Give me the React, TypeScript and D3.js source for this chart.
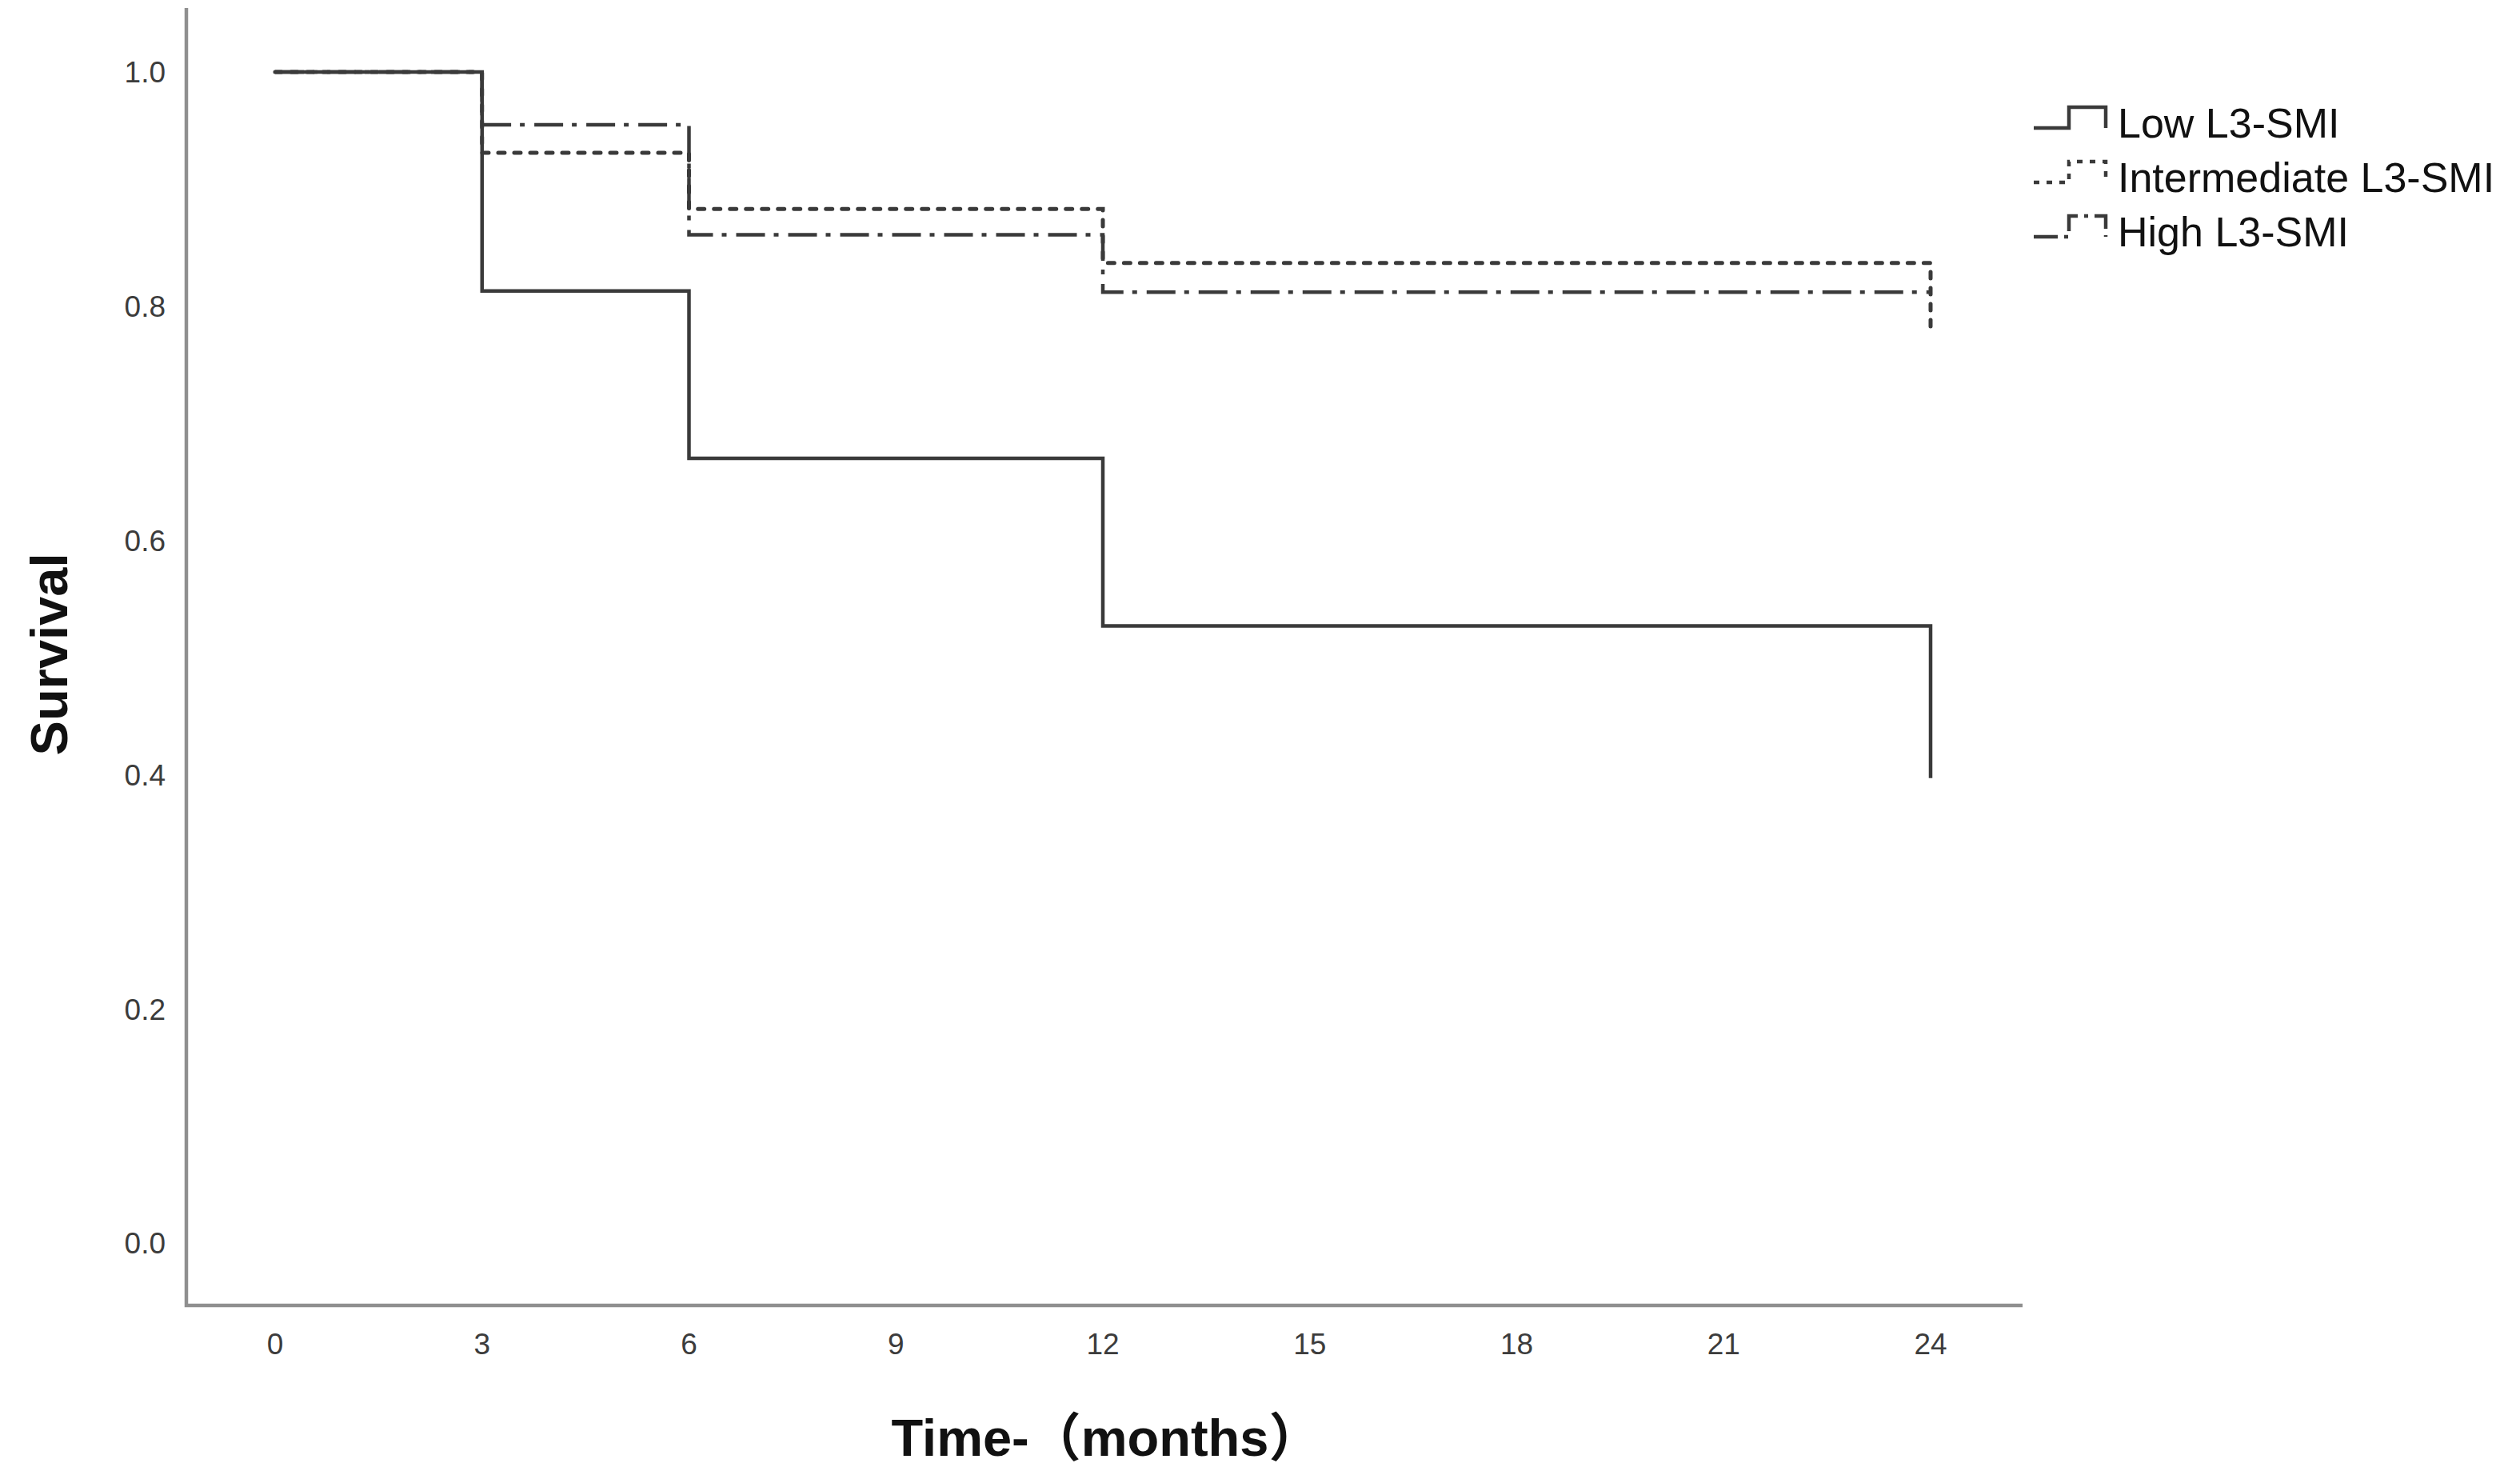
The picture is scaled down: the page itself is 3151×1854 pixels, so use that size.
import { useRef, useEffect } from "react";
import * as d3 from "d3";

const WIDTH = 3151;
const HEIGHT = 1854;

// Kaplan-Meier step points (months, survival)
const times = [0, 3, 6, 12, 24];
const lowValues = [1.0, 0.813, 0.67, 0.527, 0.397];
const intermediateValues = [1.0, 0.931, 0.883, 0.837, 0.778];
const highValues = [1.0, 0.955, 0.861, 0.812, 0.812];

const xTicks = [0, 3, 6, 9, 12, 15, 18, 21, 24];
const yTicks = [0, 0.2, 0.4, 0.6, 0.8, 1.0];

const seriesNames = ["Low L3-SMI", "Intermediate L3-SMI", "High L3-SMI"];
const seriesDash = ["none", "8,12", "36,11,6,12"];

const COLORS = {
  line: "#3a3a3a",
  axis: "#8f8f8f",
  tickText: "#3c3c3c",
  title: "#111111",
};

const FONT = "'Liberation Sans', Arial, 'Noto Sans CJK SC', sans-serif";

export default function App() {
  const svgRef = useRef<SVGSVGElement>(null);

  useEffect(() => {
    if (!svgRef.current) return;
    const svg = d3.select(svgRef.current);
    svg.selectAll("*").remove();

    svg.append("rect").attr("width", WIDTH).attr("height", HEIGHT).attr("fill", "#fff");

    const x = d3.scaleLinear().domain([0, 24]).range([344, 2414]);
    const y = d3.scaleLinear().domain([0, 1]).range([1554, 90]);

    const axisLeftX = 233;
    const axisBottomY = 1632;

    // Axis lines (SPSS style, no tick marks)
    svg
      .append("path")
      .attr("d", `M${axisLeftX},10 L${axisLeftX},${axisBottomY} L2529,${axisBottomY}`)
      .attr("fill", "none")
      .attr("stroke", COLORS.axis)
      .attr("stroke-width", 4.5);

    // Y tick labels
    svg
      .append("g")
      .selectAll("text")
      .data(yTicks)
      .enter()
      .append("text")
      .attr("x", 207)
      .attr("y", (d) => y(d))
      .attr("dy", "0.36em")
      .attr("text-anchor", "end")
      .attr("font-family", FONT)
      .attr("font-size", 37)
      .attr("fill", COLORS.tickText)
      .text((d) => d3.format(".1f")(d));

    // X tick labels
    svg
      .append("g")
      .selectAll("text")
      .data(xTicks)
      .enter()
      .append("text")
      .attr("x", (d) => x(d))
      .attr("y", 1680)
      .attr("dy", "0.36em")
      .attr("text-anchor", "middle")
      .attr("font-family", FONT)
      .attr("font-size", 37)
      .attr("fill", COLORS.tickText)
      .text((d) => String(d));

    // Axis titles
    svg
      .append("text")
      .attr("transform", `translate(84,818) rotate(-90)`)
      .attr("text-anchor", "middle")
      .attr("font-family", FONT)
      .attr("font-size", 65)
      .attr("font-weight", "bold")
      .attr("fill", COLORS.title)
      .text("Survival");

    svg
      .append("text")
      .attr("x", 1383)
      .attr("y", 1820)
      .attr("text-anchor", "middle")
      .attr("font-family", FONT)
      .attr("font-size", 65)
      .attr("font-weight", "bold")
      .attr("fill", COLORS.title)
      .text("Time-（months）");

    // Survival curves
    const line = d3
      .line<number>()
      .x((_, i) => x(times[i]))
      .y((d) => y(d))
      .curve(d3.curveStepAfter);

    const allSeries = [lowValues, intermediateValues, highValues];
    allSeries.forEach((vals, i) => {
      svg
        .append("path")
        .datum(vals)
        .attr("fill", "none")
        .attr("stroke", COLORS.line)
        .attr("stroke-width", i === 1 ? 5 : 4.5)
        .attr("stroke-dasharray", seriesDash[i])
        .attr("stroke-linecap", i === 1 ? "round" : "butt")
        .attr("d", line);
    });

    // Legend
    const legendY = d3.scaleBand<string>().domain(seriesNames).range([119, 323]);
    const legend = svg
      .append("g")
      .selectAll("g")
      .data(seriesNames)
      .enter()
      .append("g")
      .attr("transform", (d) => `translate(0,${(legendY(d) ?? 0) + legendY.bandwidth() / 2})`);

    legend
      .append("path")
      .attr("d", "M2543,7 L2587,7 L2587,-19 L2633,-19 L2633,7")
      .attr("fill", "none")
      .attr("stroke", COLORS.line)
      .attr("stroke-width", 4.5)
      .attr("stroke-dasharray", (_, i) => (i === 1 ? "7,9" : i === 2 ? "30,8,5,8" : "none"));

    legend
      .append("text")
      .attr("x", 2648)
      .attr("y", 0)
      .attr("dy", "0.36em")
      .attr("font-family", FONT)
      .attr("font-size", 52)
      .attr("fill", COLORS.title)
      .text((d) => d);
  }, []);

  return (
    <svg
      ref={svgRef}
      width={WIDTH}
      height={HEIGHT}
      style={{ position: "absolute", left: 0, top: 0, display: "block" }}
    />
  );
}
